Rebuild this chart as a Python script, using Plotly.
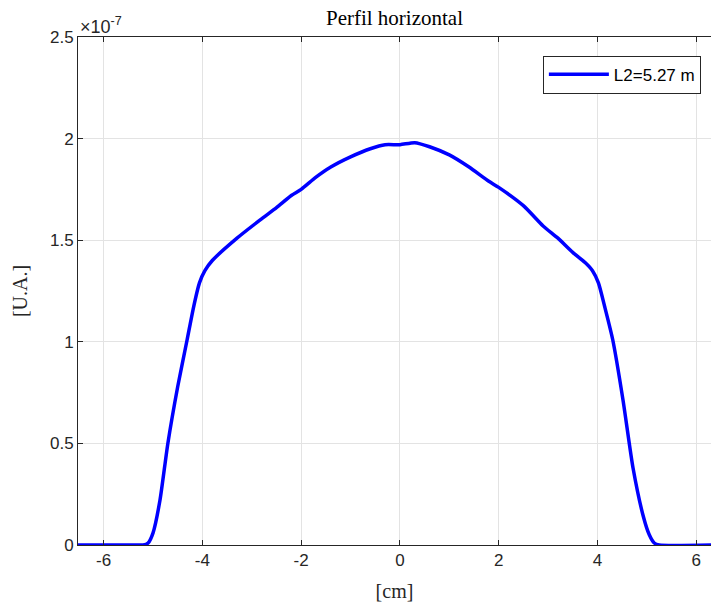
import plotly.graph_objects as go

# Horizontal profile data (x in cm, intensity in units of 1e-7 U.A.)
x_cm = [-6.52, -5.3, -5.2, -5.1, -5.0, -4.86, -4.7, -4.5, -4.31, -4.18, -4.06, -3.95,
        -3.8, -3.3, -2.83, -2.5, -2.2, -2.0, -1.7, -1.4, -1.0, -0.6, -0.3, 0.0, 0.3, 0.6,
        1.0, 1.4, 1.8, 2.0, 2.5, 2.9, 3.2, 3.5, 3.75, 3.9, 4.02, 4.15, 4.31, 4.52, 4.72,
        4.93, 5.05, 5.15, 5.25, 6.3]
intensity_e7 = [0, 0, 0, 0.01, 0.06, 0.22, 0.50, 0.78, 1.01, 1.17, 1.29, 1.35,
                1.40, 1.51, 1.60, 1.66, 1.72, 1.75, 1.81, 1.86, 1.91, 1.95, 1.97, 1.97, 1.98, 1.96,
                1.92, 1.86, 1.79, 1.76, 1.67, 1.57, 1.51, 1.44, 1.39, 1.35, 1.29, 1.17, 1.01, 0.71, 0.38,
                0.14, 0.05, 0.01, 0, 0]
scale = 1e-7
intensity = [v * scale for v in intensity_e7]

xticks = [-6, -4, -2, 0, 2, 4, 6]
yticks_e7 = [0, 0.5, 1, 1.5, 2, 2.5]
ytick_labels = ["0", "0.5", "1", "1.5", "2", "2.5"]
series_name = "L2=5.27 m"

axis_col = "#262626"
grid_col = "#e3e3e3"
serif = "Liberation Serif, Times New Roman, serif"
sans = "Liberation Sans, Arial, sans-serif"

fig = go.Figure()
fig.add_trace(go.Scatter(
    x=x_cm, y=intensity, mode="lines", name=series_name,
    line=dict(color="#0000ff", width=3.5, shape="spline", smoothing=0.6),
))

fig.update_layout(
    width=711, height=606,
    margin=dict(l=78, r=0, t=37, b=61),
    paper_bgcolor="white", plot_bgcolor="white",
    font=dict(family=sans, size=17, color=axis_col),
    showlegend=True,
    legend=dict(
        x=0.984, y=0.963, xanchor="right", yanchor="top",
        bgcolor="white", bordercolor=axis_col, borderwidth=1,
        font=dict(family=sans, size=17, color="black"),
        itemwidth=60, tracegroupgap=0,
    ),
    title=dict(text="Perfil horizontal", x=0.5, xref="paper", y=1 - 18 / 606,
               yanchor="middle", xanchor="center",
               font=dict(family=serif, size=21, color="black")),
)

fig.update_xaxes(
    range=[-6.52, 6.3], tickvals=xticks, ticktext=[str(t) for t in xticks],
    showgrid=True, gridcolor=grid_col, gridwidth=1,
    showline=True, linecolor=axis_col, linewidth=1, mirror="ticks",
    ticks="inside", ticklen=5, tickcolor=axis_col, zeroline=False,
    tickfont=dict(family=sans, size=17, color=axis_col),
    title=dict(text="[cm]", standoff=14,
               font=dict(family=serif, size=20, color=axis_col)),
)
fig.update_yaxes(
    range=[0, 2.5 * scale], tickvals=[v * scale for v in yticks_e7], ticktext=ytick_labels,
    showgrid=True, gridcolor=grid_col, gridwidth=1,
    showline=True, linecolor=axis_col, linewidth=1, mirror=False,
    ticks="inside", ticklen=5, tickcolor=axis_col, zeroline=False,
    tickfont=dict(family=sans, size=17, color=axis_col),
    title=dict(text="[U.A.]", standoff=16,
               font=dict(family=serif, size=20, color=axis_col)),
)

fig.add_annotation(
    text="×10<sup>-7</sup>", xref="paper", yref="paper", x=0, y=1,
    xanchor="left", yanchor="bottom", showarrow=False, yshift=-2,
    font=dict(family=sans, size=18, color=axis_col),
)

fig.write_html("out.html")
